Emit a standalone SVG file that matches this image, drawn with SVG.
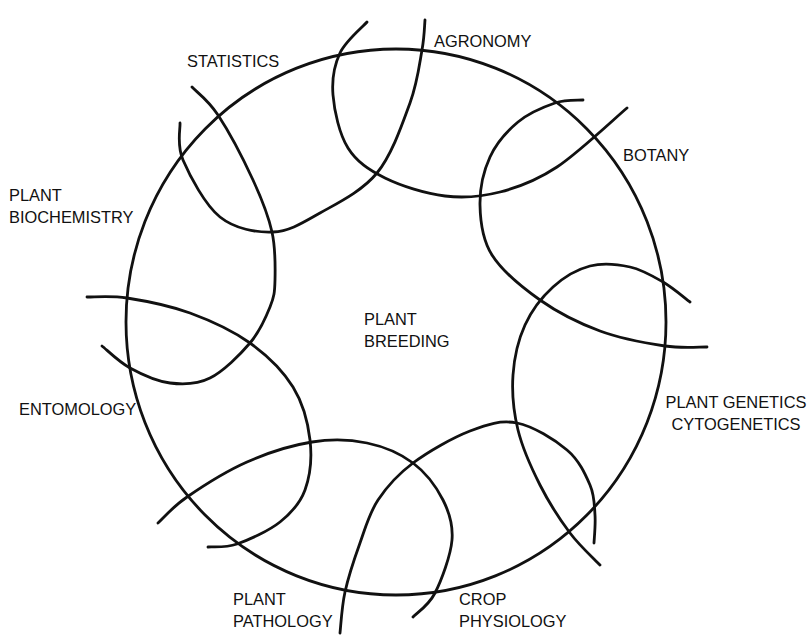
<svg xmlns="http://www.w3.org/2000/svg" width="812" height="635" viewBox="0 0 812 635">
<style>
.ln{fill:none;stroke:#111;stroke-width:2.8;stroke-linecap:round;stroke-linejoin:round}
text{font-family:"Liberation Sans",Arial,Helvetica,sans-serif;font-size:16.4px;fill:#111}
</style>
<rect width="812" height="635" fill="#fff"/>
<g id="plant-breeding">
<ellipse class="ln" cx="396" cy="322" rx="270" ry="273"/>
<text x="364" y="325">PLANT</text>
<text x="364" y="347">BREEDING</text>
</g>
<g id="connectors">
<path class="ln" d="M425,20 C424.5,25 424.5,36.2 422,50 C419.5,63.8 417.5,82.5 410,103 C402.5,123.5 392,154.7 377,173 C362,191.3 337.3,203.2 320,213 C302.7,222.8 289.7,231.3 273,232 C256.3,232.7 235,229 220,217 C205,205 189.7,175.7 183,160 C176.3,144.3 180.5,129.2 180,123"/>
<path class="ln" d="M367,22 C362.5,27.2 345.7,40.8 340,53 C334.3,65.2 331.7,79.2 333,95 C334.3,110.8 339.3,134.2 348,148 C356.7,161.8 368.8,170 385,178 C401.2,186 425.8,193.7 445,196 C464.2,198.3 481.3,196.8 500,192 C518.7,187.2 535.8,181 557,167 C578.2,153 615.3,117.8 627,108"/>
<path class="ln" d="M583,100 C578.3,100.5 565.8,99.3 555,103 C544.2,106.7 528.8,113 518,122 C507.2,131 496.3,143.2 490,157 C483.7,170.8 479.7,188.7 480,205 C480.3,221.3 482,239.2 492,255 C502,270.8 522,287.3 540,300 C558,312.7 579.2,323.3 600,331 C620.8,338.7 647.2,343.3 665,346 C682.8,348.7 700,346.8 707,347"/>
<path class="ln" d="M690,302 C685.5,298.7 673,287.8 663,282 C653,276.2 642.2,269.7 630,267 C617.8,264.3 602.8,262.7 590,266 C577.2,269.3 563.8,277.2 553,287 C542.2,296.8 531.7,310.3 525,325 C518.3,339.7 514.2,357.5 513,375 C511.8,392.5 513.5,411.7 518,430 C522.5,448.3 531.3,467.8 540,485 C548.7,502.2 560,519.7 570,533 C580,546.3 595,559.7 600,565"/>
<path class="ln" d="M340,633 C340.8,626.2 341.7,607 345,592 C348.3,577 354.5,558.3 360,543 C365.5,527.7 369.2,513.3 378,500 C386.8,486.7 397.7,474.5 413,463 C428.3,451.5 452.7,437.7 470,431 C487.3,424.3 500.8,419.8 517,423 C533.2,426.2 554.8,439.7 567,450 C579.2,460.3 585.3,474.2 590,485 C594.7,495.8 594.3,505.3 595,515 C595.7,524.7 594.2,538.3 594,543"/>
<path class="ln" d="M158,523 C162.8,518.7 172.2,507.2 187,497 C201.8,486.8 226.2,471.2 247,462 C267.8,452.8 292,445.2 312,442 C332,438.8 350.2,439.5 367,443 C383.8,446.5 400.3,453.5 413,463 C425.7,472.5 436.5,487.2 443,500 C449.5,512.8 453.3,524.5 452,540 C450.7,555.5 441.5,580.2 435,593 C428.5,605.8 416.7,613 413,617"/>
<path class="ln" d="M87,297 C93.7,297.2 109.8,295.3 127,298 C144.2,300.7 169.5,305.5 190,313 C210.5,320.5 232.8,330.7 250,343 C267.2,355.3 283,370.8 293,387 C303,403.2 308,422.8 310,440 C312,457.2 310,476.3 305,490 C300,503.7 291.3,513 280,522 C268.7,531 249,539.8 237,544 C225,548.2 212.8,546.5 208,547"/>
<path class="ln" d="M192,87 C196.3,91.7 207.8,99.5 218,115 C228.2,130.5 244,160.5 253,180 C262,199.5 268.3,215.3 272,232 C275.7,248.7 275.3,267.5 275,280 C274.7,292.5 274.2,296.5 270,307 C265.8,317.5 260,331.2 250,343 C240,354.8 223.3,371.3 210,378 C196.7,384.7 183.3,384.7 170,383 C156.7,381.3 141.3,374.2 130,368 C118.7,361.8 106.7,349.7 102,346"/>
</g>
<g id="agronomy"><text x="434" y="47">AGRONOMY</text></g>
<g id="statistics"><text x="187" y="67">STATISTICS</text></g>
<g id="botany"><text x="623" y="161">BOTANY</text></g>
<g id="plant-biochemistry"><text x="9" y="201">PLANT</text><text x="9" y="223">BIOCHEMISTRY</text></g>
<g id="plant-genetics"><text x="736" y="408" text-anchor="middle">PLANT GENETICS</text><text x="736" y="430" text-anchor="middle">CYTOGENETICS</text></g>
<g id="entomology"><text x="19" y="415">ENTOMOLOGY</text></g>
<g id="plant-pathology"><text x="233" y="605">PLANT</text><text x="233" y="627">PATHOLOGY</text></g>
<g id="crop-physiology"><text x="459" y="605">CROP</text><text x="459" y="627">PHYSIOLOGY</text></g>
</svg>
